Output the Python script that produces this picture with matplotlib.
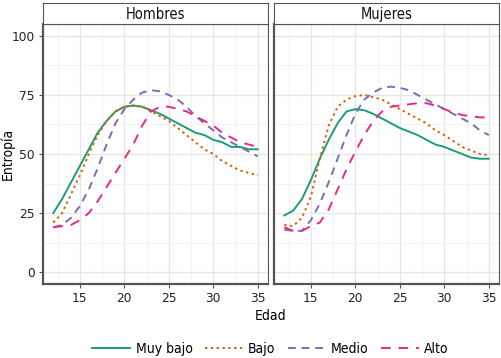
import matplotlib.pyplot as plt
from matplotlib.lines import Line2D

plt.rcParams['font.family'] = ['DejaVu Sans']

edad = list(range(12, 36))
paneles = ["Hombres", "Mujeres"]
grupos = ["Muy bajo", "Bajo", "Medio", "Alto"]

hombres = {
    "Muy bajo": [25, 31, 38, 45, 52, 59, 64, 68, 70, 70.5, 70, 68.5, 67, 65, 63, 61, 59, 58, 56, 55, 53, 53, 52, 52],
    "Bajo": [21, 25, 33, 41, 50, 58, 64, 68, 70, 70.5, 70, 68, 66, 64, 61, 58, 55, 52, 50, 47, 45, 43, 42, 41],
    "Medio": [19, 20, 23, 28, 35, 44, 54, 63, 69, 73, 76, 77, 76.5, 75, 73, 70, 66, 63, 60, 57, 55, 53, 51, 49],
    "Alto": [19, 19.5, 20, 22, 25, 30, 36, 42, 48, 54, 62, 68, 70, 70, 69, 68, 66, 64, 62, 59, 57, 55, 54, 53],
}
mujeres = {
    "Muy bajo": [24, 26, 31, 39, 48, 56, 63, 68, 69, 68.5, 67, 65, 63, 61, 59.5, 58, 56, 54, 53, 51.5, 50, 48.5, 48, 48],
    "Bajo": [20, 19.5, 23, 32, 48, 62, 70, 73, 74.5, 75, 74, 73, 71, 69, 67, 65, 63, 60, 58, 55.5, 53, 51.5, 50, 49.5],
    "Medio": [18, 17.5, 17.5, 22, 29, 38, 48, 58, 67, 73, 76, 78, 78.5, 78, 77, 75, 73, 71, 69, 67, 65, 63, 60, 58],
    "Alto": [19, 17.5, 17.5, 19.5, 21, 26.5, 35, 43.5, 51, 58, 64, 68, 70, 70.5, 71, 71.5, 71.5, 70.5, 69, 67.5, 66.5, 66, 65.5, 65.5],
}
datos = [hombres, mujeres]

colores = {"Muy bajo": "#1B9E77", "Bajo": "#D95F02", "Medio": "#7570B3", "Alto": "#E7298A"}
estilos = {"Muy bajo": "-", "Bajo": (0, (1.2, 1.8)), "Medio": (0, (4, 3)), "Alto": (0, (5, 4))}

cond = dict(family='DejaVu Sans', stretch='condensed')

fig = plt.figure(figsize=(5.01, 3.58), dpi=100)
W, H = 501, 358
lefts = [43, 274]
pw = 225
top_px, bot_px = 24, 284

for i, (nombre, d) in enumerate(zip(paneles, datos)):
    ax = fig.add_axes([lefts[i] / W, 1 - bot_px / H, pw / W, (bot_px - top_px) / H])
    ax.set_xlim(10.85, 36.15)
    ax.set_ylim(-5, 105)
    ax.set_xticks([15, 20, 25, 30, 35])
    ax.set_xticks([12.5, 17.5, 22.5, 27.5, 32.5], minor=True)
    ax.set_yticks([0, 25, 50, 75, 100])
    ax.set_yticks([12.5, 37.5, 62.5, 87.5], minor=True)
    ax.grid(which='major', color='#e6e6e6', lw=0.9)
    ax.grid(which='minor', color='#f0f0f0', lw=0.6)
    ax.set_axisbelow(True)
    for s in ax.spines.values():
        s.set_color('#555555')
        s.set_linewidth(0.8)
    ax.spines['left'].set_linewidth(1.6)
    ax.spines['bottom'].set_linewidth(1.6)
    ax.tick_params(which='major', length=3, color='#555555', labelsize=8.8,
                   labelcolor='#222222', pad=3)
    ax.tick_params(which='minor', length=0)
    if i == 1:
        ax.tick_params(axis='y', labelleft=False, length=0)
    for g in grupos:
        ax.plot(edad, d[g], color=colores[g], ls=estilos[g], lw=1.4)
    # strip
    sax = fig.add_axes([lefts[i] / W, 1 - top_px / H, pw / W, 21 / H])
    sax.set_xticks([])
    sax.set_yticks([])
    for s in sax.spines.values():
        s.set_color('#555555')
        s.set_linewidth(0.8)
    sax.text(0.5, 0.45, nombre, ha='center', va='center', fontsize=10.5,
             color='#111111', transform=sax.transAxes, **cond)
    if i == 0:
        ax.set_ylabel("Entropía", fontsize=10, **cond)
        ax.yaxis.set_label_coords(-28 / pw, 0.5)

fig.text(0.54, 1 - 316 / H, "Edad", ha='center', va='center', fontsize=10, **cond)

handles = [Line2D([], [], color=colores[g], ls=estilos[g], lw=1.4) for g in grupos]
fig.legend(handles, grupos, loc='center', bbox_to_anchor=(0.54, 1 - 349 / H), ncol=4,
           frameon=False, prop=dict(size=10, **cond), handlelength=2.7,
           columnspacing=0.9, handletextpad=0.4)

fig.savefig("out.png", dpi=100)
